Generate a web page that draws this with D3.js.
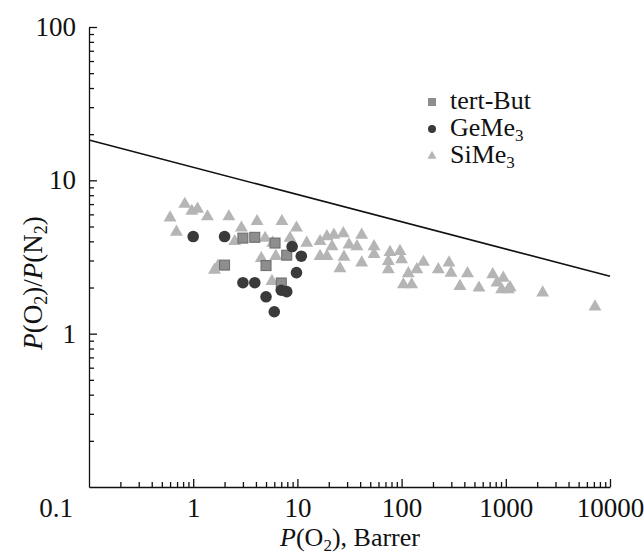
<!DOCTYPE html>
<html>
<head>
<meta charset="utf-8">
<script src="https://cdn.jsdelivr.net/npm/d3@7"></script>
<style>
  body { margin: 0; background: #fff; }
  svg text { font-family: "Liberation Serif", "DejaVu Serif", serif; fill: #111; }
</style>
</head>
<body>
<script>
w = 644;
h = 554;

// P(O2), Barrer  /  P(O2)/P(N2)
tertBut = [[3.0, 4.2], [3.9, 4.25], [6.1, 3.9], [7.9, 3.25], [2.0, 2.8], [5.0, 2.78], [7.0, 2.14]];
geMe3 = [[1.0, 4.3], [2.0, 4.3], [8.9, 3.7], [10.9, 3.2], [9.8, 2.5], [3.0, 2.15], [3.9, 2.15],
  [7.0, 1.92], [7.9, 1.88], [5.0, 1.74], [6.0, 1.39]];
siMe3 = [[0.6, 5.7], [0.69, 4.6], [0.83, 7.0], [0.97, 6.3], [1.1, 6.5], [1.37, 5.8], [2.2, 5.8],
  [2.9, 4.9], [4.1, 5.4], [7.1, 5.4], [9.8, 4.9], [2.5, 4.0], [4.9, 4.2], [5.8, 3.9], [8.5, 4.2],
  [12.3, 3.9], [4.5, 3.1], [6.2, 3.2], [1.73, 2.76], [1.6, 2.6], [5.7, 2.2], [16.5, 4.0],
  [19.2, 4.3], [22.4, 4.4], [27.6, 4.5], [41.4, 4.4], [16.5, 3.2], [19.2, 3.2], [21.5, 3.7],
  [31.3, 3.8], [37.3, 3.7], [28, 3.16], [41.4, 2.9], [25.6, 2.66], [54.4, 3.7], [54.4, 3.3],
  [77.4, 3.4], [96.5, 3.45], [74.6, 2.97], [100, 3.05], [74.6, 2.62], [116, 2.47], [162, 2.93],
  [140, 2.62], [225, 2.62], [285, 2.9], [298, 2.49], [429, 2.47], [104, 2.09], [125, 2.09],
  [363, 2.04], [553, 1.99], [749, 2.43], [946, 2.31], [913, 1.94], [1057, 1.94], [823, 2.15],
  [1100, 2.0], [2260, 1.85], [7180, 1.5]];
upperBound = [[0.1, 18.3], [10000, 2.37]];

xTicks = [1, 10, 100, 1000, 10000];
yTicks = [1, 10, 100];
cornerLabel = '0.1';
legendItems = [
  { name: 'tert-But', sub: '', shape: 'square' },
  { name: 'GeMe', sub: '3', shape: 'circle' },
  { name: 'SiMe', sub: '3', shape: 'triangle' }
];

let xScale = d3.scaleLog().domain([0.1, 10000]).range([89, 610]);
let yScale = d3.scaleLog().domain([0.1, 100]).range([487, 27]);

function minors(lo, hi) {
  let out = [];
  for (let d = lo; d < hi; d *= 10)
    for (let k = 2; k <= 9; k++) out.push(d * k);
  return out;
}

svg = d3.select('body')
  .append('svg')
  .attr('width', w)
  .attr('height', h);

const fontSize = 27;

// axes (ticks inward)
svg.append('g')
  .attr('transform', `translate(0, ${yScale.range()[0]})`)
  .call(d3.axisBottom(xScale).tickValues(xTicks).tickSize(-8).tickSizeOuter(0)
    .tickPadding(11).tickFormat(d3.format('d')));
svg.append('g')
  .attr('transform', `translate(0, ${yScale.range()[0]})`)
  .call(d3.axisBottom(xScale).tickValues(minors(0.1, 10000)).tickSize(-5).tickSizeOuter(0).tickFormat(''))
  .select('.domain').remove();

svg.append('g')
  .attr('transform', `translate(${xScale.range()[0]}, 0)`)
  .call(d3.axisLeft(yScale).tickValues(yTicks).tickSize(-8).tickSizeOuter(0)
    .tickPadding(13).tickFormat(d3.format('d')));
svg.append('g')
  .attr('transform', `translate(${xScale.range()[0]}, 0)`)
  .call(d3.axisLeft(yScale).tickValues(minors(0.1, 100)).tickSize(-5).tickSizeOuter(0).tickFormat(''))
  .select('.domain').remove();

svg.selectAll('.domain, .tick line').attr('stroke', '#111').attr('stroke-width', 1.3);
svg.selectAll('.tick text').attr('font-size', fontSize)
  .attr('font-family', '"Liberation Serif", serif').attr('fill', '#111');

svg.append('text')
  .attr('x', xScale.range()[0] - 16)
  .attr('y', yScale.range()[0] + 11)
  .attr('dy', '0.71em')
  .attr('text-anchor', 'end')
  .attr('font-size', fontSize)
  .text(cornerLabel);

// upper bound line
svg.append('path')
  .datum(upperBound)
  .attr('d', d3.line().x(d => xScale(d[0])).y(d => yScale(d[1])))
  .attr('fill', 'none')
  .attr('stroke', '#111')
  .attr('stroke-width', 1.6);

// markers
const triangle = d3.symbol().type(d3.symbolTriangle).size(72);

svg.append('g').selectAll('path')
  .data(siMe3)
  .enter()
  .append('path')
  .attr('d', triangle)
  .attr('transform', d => `translate(${xScale(d[0])}, ${yScale(d[1])})`)
  .attr('fill', '#b5b5b5');

svg.append('g').selectAll('rect')
  .data(tertBut)
  .enter()
  .append('rect')
  .attr('x', d => xScale(d[0]) - 5)
  .attr('y', d => yScale(d[1]) - 5)
  .attr('width', 10)
  .attr('height', 10)
  .attr('fill', '#8e8e8e')
  .attr('stroke', '#6a6a6a')
  .attr('stroke-width', 1);

svg.append('g').selectAll('circle')
  .data(geMe3)
  .enter()
  .append('circle')
  .attr('cx', d => xScale(d[0]))
  .attr('cy', d => yScale(d[1]))
  .attr('r', 5.8)
  .attr('fill', '#3a3a3a');

// legend
let legend = svg.append('g').attr('transform', 'translate(432, 102)');
legendItems.forEach((it, i) => {
  let g = legend.append('g').attr('transform', `translate(0, ${i * 27})`);
  if (it.shape === 'square')
    g.append('rect').attr('x', -4).attr('y', -4).attr('width', 8).attr('height', 8).attr('fill', '#8e8e8e');
  else if (it.shape === 'circle')
    g.append('circle').attr('r', 4).attr('fill', '#3a3a3a');
  else
    g.append('path').attr('d', d3.symbol().type(d3.symbolTriangle).size(36)).attr('fill', '#b5b5b5');
  let t = g.append('text').attr('x', 18).attr('y', 7).attr('font-size', 26).text(it.name);
  if (it.sub) t.append('tspan').attr('font-size', 17).attr('dy', 5).text(it.sub);
});

// axis titles
let xt = svg.append('text')
  .attr('x', 350)
  .attr('y', 546)
  .attr('text-anchor', 'middle')
  .attr('font-size', 26);
xt.append('tspan').attr('font-style', 'italic').text('P');
xt.append('tspan').text('(O');
xt.append('tspan').attr('font-size', 17).attr('dy', 5).text('2');
xt.append('tspan').attr('dy', -5).text('), Barrer');

let yt = svg.append('text')
  .attr('transform', 'translate(42, 283) rotate(-90)')
  .attr('text-anchor', 'middle')
  .attr('font-size', 27);
yt.append('tspan').attr('font-style', 'italic').text('P');
yt.append('tspan').text('(O');
yt.append('tspan').attr('font-size', 18).attr('dy', 5).text('2');
yt.append('tspan').attr('dy', -5).text(')/');
yt.append('tspan').attr('font-style', 'italic').text('P');
yt.append('tspan').text('(N');
yt.append('tspan').attr('font-size', 18).attr('dy', 5).text('2');
yt.append('tspan').attr('dy', -5).text(')');
</script>
</body>
</html>
